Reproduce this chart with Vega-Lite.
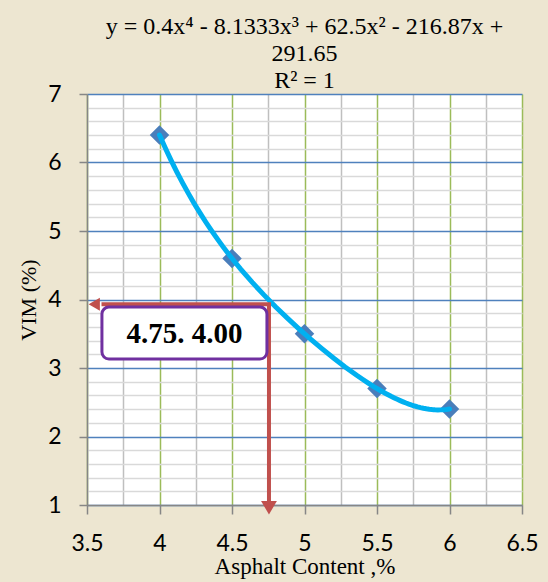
{
  "$schema": "https://vega.github.io/schema/vega-lite/v6.json",
  "width": 435,
  "height": 411,
  "autosize": {"type": "none"},
  "padding": {"left": 87, "top": 94, "right": 26, "bottom": 77},
  "background": "#ede6d1",
  "config": {"view": {"fill": "white", "stroke": null}},
  "title": {
    "text": ["y = 0.4x⁴ - 8.1333x³ + 62.5x² - 216.87x +", "291.65", "R² = 1"],
    "font": "Liberation Serif",
    "fontSize": 24,
    "fontWeight": "normal",
    "color": "#000000",
    "lineHeight": 27,
    "anchor": "middle",
    "offset": -10
  },
  "datasets": {
    "pts": [
      {"ac": 4, "vim": 6.4},
      {"ac": 4.5, "vim": 4.6},
      {"ac": 5, "vim": 3.5},
      {"ac": 5.5, "vim": 2.7},
      {"ac": 6, "vim": 2.4}
    ],
    "arrow": [
      {"ac": 3.6, "vim": 3.93, "o": 1},
      {"ac": 4.755, "vim": 3.93, "o": 2},
      {"ac": 4.755, "vim": 1.05, "o": 3}
    ],
    "headLeft": [{"ac": 3.55, "vim": 3.93}],
    "headDown": [{"ac": 4.755, "vim": 0.96}],
    "box": [{"x1": 3.603, "x2": 4.741, "y1": 3.13, "y2": 3.89, "label": "4.75. 4.00", "xc": 4.172, "yc": 3.5}]
  },
  "layer": [
    {
      "data": {"name": "pts"},
      "mark": {"type": "point", "shape": "diamond", "filled": true, "size": 380, "color": "#4a7ebb", "opacity": 1},
      "encoding": {
        "x": {
          "field": "ac",
          "type": "quantitative",
          "scale": {"domain": [3.5, 6.5], "nice": false, "zero": false},
          "axis": {
            "values": [3.5, 3.75, 4, 4.25, 4.5, 4.75, 5, 5.25, 5.5, 5.75, 6, 6.25, 6.5],
            "tickCount": 200,
            "labelExpr": "round(datum.value*2)==datum.value*2 ? '' + datum.value : ''",
            "labelFlush": false,
            "labelOverlap": false,
            "labelFont": "Lato",
            "labelFontSize": 23,
            "labelColor": "#000000",
            "labelPadding": 18,
            "grid": true,
            "gridColor": {"condition": {"test": "round(datum.value*2)==datum.value*2", "value": "#9bbb59"}, "value": "#bfbfbf"},
            "gridWidth": 1.5,
            "ticks": true,
            "tickColor": "#868686",
            "tickWidth": 1.5,
            "tickSize": 9,
            "tickOpacity": {"condition": {"test": "round(datum.value*2)==datum.value*2", "value": 1}, "value": 0},
            "domainColor": "#868686",
            "domainWidth": 1.5,
            "title": "Asphalt Content ,%",
            "titleFont": "Liberation Serif",
            "titleFontSize": 23,
            "titleFontWeight": "normal",
            "titleColor": "#000000",
            "titlePadding": 0
          }
        },
        "y": {
          "field": "vim",
          "type": "quantitative",
          "scale": {"domain": [1, 7], "nice": false, "zero": false},
          "axis": {
            "values": [1, 1.2, 1.4, 1.6, 1.8, 2, 2.2, 2.4, 2.6, 2.8, 3, 3.2, 3.4, 3.6, 3.8, 4, 4.2, 4.4, 4.6, 4.8, 5, 5.2, 5.4, 5.6, 5.8, 6, 6.2, 6.4, 6.6, 6.8, 7],
            "tickCount": 200,
            "labelExpr": "abs(datum.value-round(datum.value))<0.001 ? '' + round(datum.value) : ''",
            "labelOverlap": false,
            "labelFont": "Lato",
            "labelFontSize": 23,
            "labelColor": "#000000",
            "labelPadding": 18,
            "grid": true,
            "gridColor": {"condition": {"test": "abs(datum.value-round(datum.value))<0.001", "value": "#4f81bd"}, "value": "#d9d9d9"},
            "gridWidth": 1.5,
            "ticks": true,
            "tickColor": "#868686",
            "tickWidth": 1.5,
            "tickSize": 8,
            "tickOpacity": {"condition": {"test": "abs(datum.value-round(datum.value))<0.001", "value": 1}, "value": 0},
            "domainColor": "#868686",
            "domainWidth": 1.5,
            "title": "VIM (%)",
            "titleFont": "Liberation Serif",
            "titleFontSize": 22,
            "titleFontWeight": "normal",
            "titleColor": "#000000",
            "titlePadding": 7
          }
        }
      }
    },
    {
      "data": {"name": "pts"},
      "transform": [{"regression": "vim", "on": "ac", "method": "poly", "order": 4, "extent": [4, 6]}],
      "mark": {"type": "line", "color": "#00b0f0", "strokeWidth": 5, "strokeCap": "round"},
      "encoding": {
        "x": {"field": "ac", "type": "quantitative"},
        "y": {"field": "vim", "type": "quantitative"}
      }
    },
    {
      "data": {"name": "arrow"},
      "mark": {"type": "line", "color": "#c0504d", "strokeWidth": 4},
      "encoding": {
        "x": {"field": "ac", "type": "quantitative"},
        "y": {"field": "vim", "type": "quantitative"},
        "order": {"field": "o", "type": "quantitative"}
      }
    },
    {
      "data": {"name": "headLeft"},
      "mark": {"type": "point", "shape": "triangle-left", "filled": true, "size": 170, "color": "#c0504d", "opacity": 1},
      "encoding": {
        "x": {"field": "ac", "type": "quantitative"},
        "y": {"field": "vim", "type": "quantitative"}
      }
    },
    {
      "data": {"name": "headDown"},
      "mark": {"type": "point", "shape": "triangle-down", "filled": true, "size": 250, "color": "#c0504d", "opacity": 1},
      "encoding": {
        "x": {"field": "ac", "type": "quantitative"},
        "y": {"field": "vim", "type": "quantitative"}
      }
    },
    {
      "data": {"name": "box"},
      "mark": {"type": "rect", "fill": "#ffffff", "stroke": "#7030a0", "strokeWidth": 3, "cornerRadius": 7},
      "encoding": {
        "x": {"field": "x1", "type": "quantitative"},
        "x2": {"field": "x2"},
        "y": {"field": "y1", "type": "quantitative"},
        "y2": {"field": "y2"}
      }
    },
    {
      "data": {"name": "box"},
      "mark": {"type": "text", "font": "Liberation Serif", "fontSize": 29, "fontWeight": "bold", "color": "#000000", "align": "center", "baseline": "middle"},
      "encoding": {
        "x": {"field": "xc", "type": "quantitative"},
        "y": {"field": "yc", "type": "quantitative"},
        "text": {"field": "label"}
      }
    }
  ]
}
